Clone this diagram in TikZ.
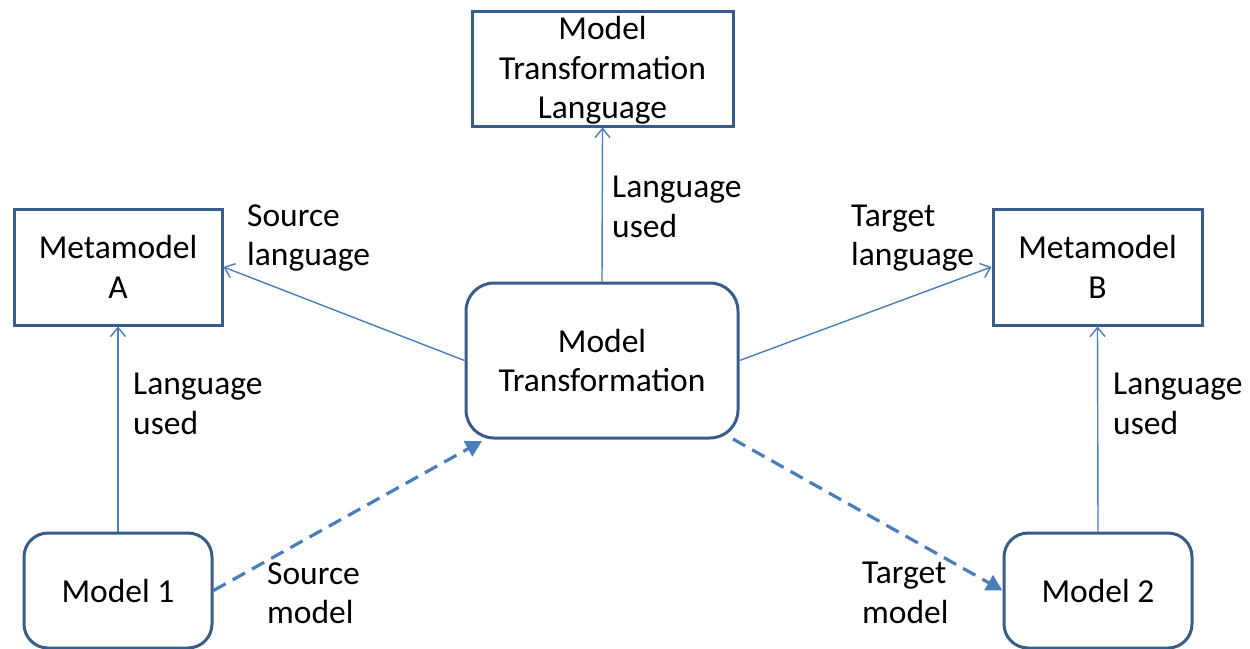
\documentclass[tikz,border=0pt]{standalone}
\usepackage{fontspec}
\setmainfont{Carlito}
\usetikzlibrary{arrows.meta}
\definecolor{boxblue}{HTML}{385D8A}
\definecolor{lineblue}{HTML}{4A7EBB}
\begin{document}
\begin{tikzpicture}[x=1pt,y=-1pt,
  txt/.style={font=\fontsize{33.5}{39.5}\selectfont},
  sqbox/.style={txt,draw=boxblue,line width=3pt,align=center,inner sep=0pt},
  rbox/.style={sqbox,rounded corners=28pt},
  lbl/.style={txt,align=left,inner sep=0pt,anchor=west},
  thinarrow/.style={draw=lineblue,line width=1.4pt,-{Straight Barb[length=9pt,width=15pt,line width=1.4pt]}},
  dasharrow/.style={draw=lineblue,line width=3.2pt,dash pattern=on 14pt off 8pt,-{Triangle[length=16pt,width=17pt]}}
]
\useasboundingbox (0,0) rectangle (1250,648);
\node[sqbox,minimum width=261pt,minimum height=115pt] (MTL) at (602.5,68.5) {\rule{0pt}{27pt}Model\\Transformation\\Language};
\node[sqbox,minimum width=208pt,minimum height=116pt] (MA) at (118,267) {Metamodel\\A};
\node[sqbox,minimum width=209pt,minimum height=116pt] (MB) at (1097.5,267) {Metamodel\\B};
\node[rbox,minimum width=272pt,minimum height=155pt] (MT) at (602,360.5) {Model\\Transformation};
\node[rbox,rounded corners=24pt,minimum width=188pt,minimum height=115pt] (M1) at (118,590.5) {Model 1};
\node[rbox,rounded corners=24pt,minimum width=188pt,minimum height=115pt] (M2) at (1098,590.5) {Model 2};
\coordinate (MTsw) at (482,441);
\coordinate (MTse) at (733,439);

\draw[thinarrow] (MT.north) -- (MTL.south);
\draw[thinarrow] (MT.west) -- (MA.east);
\draw[thinarrow] (MT.east) -- (MB.west);
\draw[thinarrow] (M1.north) -- (MA.south);
\draw[thinarrow] (M2.north) -- (MB.south);
\draw[dasharrow] (M1.east) -- (MTsw);
\draw[dasharrow] (MTse) -- (M2.west);

\node[lbl] (l1) at (612,207) {Language\\used};
\node[lbl] (l2) at (247,238) {Source\\language};
\node[lbl] (l3) at (851,238) {Target\\language};
\node[lbl] (l4) at (133,404) {Language\\used};
\node[lbl] (l5) at (1113,404) {Language\\used};
\node[lbl] (l6) at (267,593) {Source\\model};
\node[lbl] (l7) at (862,593) {Target\\model};
\end{tikzpicture}
\end{document}
